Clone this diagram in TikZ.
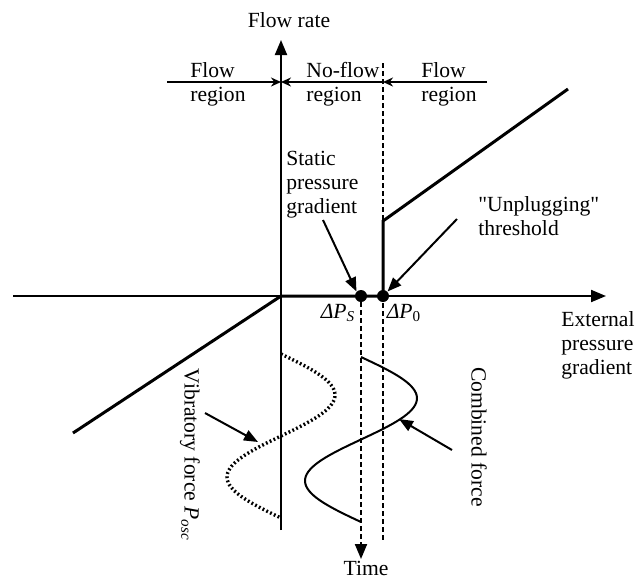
\documentclass[tikz,border=0pt]{standalone}
\usepackage{fontspec}
\setmainfont{Liberation Serif}
\usetikzlibrary{arrows.meta, positioning}
\tikzset{
  lbl/.style      = {font=\fontsize{10.8}{12}\selectfont, inner sep=0pt, align=left},
  axis/.style     = {line width=1pt, -{Triangle[length=7.5pt, width=6pt]}},
  flowline/.style = {line width=1.5pt, line join=miter},
  rg/.style       = {line width=1pt, -{Stealth[length=5pt, width=4.5pt]}},
  fl/.style       = {line width=1pt, -{Triangle[length=7pt, width=5.5pt]}},
  dsh/.style      = {line width=1pt, dash pattern=on 2.5pt off 1.5pt},
  dotcurve/.style = {line width=1.7pt, dash pattern=on 0.9pt off 1.2pt},
  solcurve/.style = {line width=1pt},
  dot/.style      = {circle, fill, inner sep=0pt, minimum size=6pt}
}
\begin{document}
\begin{tikzpicture}[x=0.5pt, y=-0.5pt]
  \useasboundingbox (0,0) rectangle (637,580);
  % axes
  \coordinate (orig) at (281,296);
  \coordinate (xl) at (13,296);
  \coordinate (xr) at (606,296);
  \coordinate (yb) at (281,530);
  \coordinate (yt) at (281,40);
  \draw[axis] (xl) -- (xr);
  \draw[axis] (yb) -- (yt);
  \node[lbl] (frate) at (289,20) {Flow rate};
  \node[lbl, anchor=west] (xlbl) at (561,345) {External\\pressure\\gradient};
  % pressure points and dashed lines
  \node[dot] (ps) at (361,296) {};
  \node[dot] (p0) at (383,296) {};
  \coordinate (p0top) at (383,63);
  \coordinate (p0bot) at (383,540);
  \coordinate (tend) at (361,559);
  \draw[dsh] (p0top) -- (p0bot);
  \draw[dsh, -{Triangle[length=7.5pt, width=6pt]}] (ps) -- (tend);
  \node[lbl] (time) at (366,568) {Time};
  \node[lbl] (dps) at (338,313) {\textit{ΔP}\textsubscript{\textit{S}}};
  \node[lbl] (dp0) at (404,313) {\textit{ΔP}\textsubscript{0}};
  % flow curve
  \coordinate (c1) at (73,433);
  \coordinate (c2) at (383,221);
  \coordinate (c3) at (568,89);
  \draw[flowline] (c1) -- (orig) -- (p0.center) -- (c2) -- (c3);
  % regions
  \coordinate (rl) at (167,82);
  \coordinate (rm1) at (281,82);
  \coordinate (rm2) at (383,82);
  \coordinate (rr) at (487,82);
  \draw[rg] (rl) -- (rm1);
  \draw[rg, {Stealth[length=5pt, width=4.5pt]}-] (rm1) -- (rm2);
  \draw[rg] (rr) -- (rm2);
  \node[lbl, anchor=west] (reg1) at (190,84) {Flow\\region};
  \node[lbl, anchor=west] (reg2) at (306,84) {No-flow\\region};
  \node[lbl, anchor=west] (reg3) at (421,84) {Flow\\region};
  % annotations
  \node[lbl, anchor=west] (stat) at (286,185) {Static\\pressure\\gradient};
  \node[lbl, anchor=west] (unpl) at (478,216) {\textquotedbl Unplugging\textquotedbl\\threshold};
  \coordinate (statt) at (323,220);
  \coordinate (unplt) at (457,219);
  \draw[fl] (statt) -- (ps.north west);
  \draw[fl] (unplt) -- (p0.north east);
  % forces
  \draw[dotcurve] plot[domain=354:518, samples=70, variable=\t]
    ({281+54*sin((\t-354)/164*360)}, {\t});
  \draw[solcurve] plot[domain=357:522, samples=70, variable=\t]
    ({361+56*sin((\t-357)/165*360)}, {\t});
  \node[lbl, rotate=-90] (vib) at (190,455) {Vibratory force \textit{P}\textsubscript{\textit{osc}}};
  \node[lbl, rotate=-90] (comb) at (479,437) {Combined force};
  \coordinate (vibt) at (205,413);
  \coordinate (vibh) at (258,442);
  \coordinate (combt) at (452,450);
  \coordinate (combh) at (399,419);
  \draw[fl] (vibt) -- (vibh);
  \draw[fl] (combt) -- (combh);
\end{tikzpicture}
\end{document}
